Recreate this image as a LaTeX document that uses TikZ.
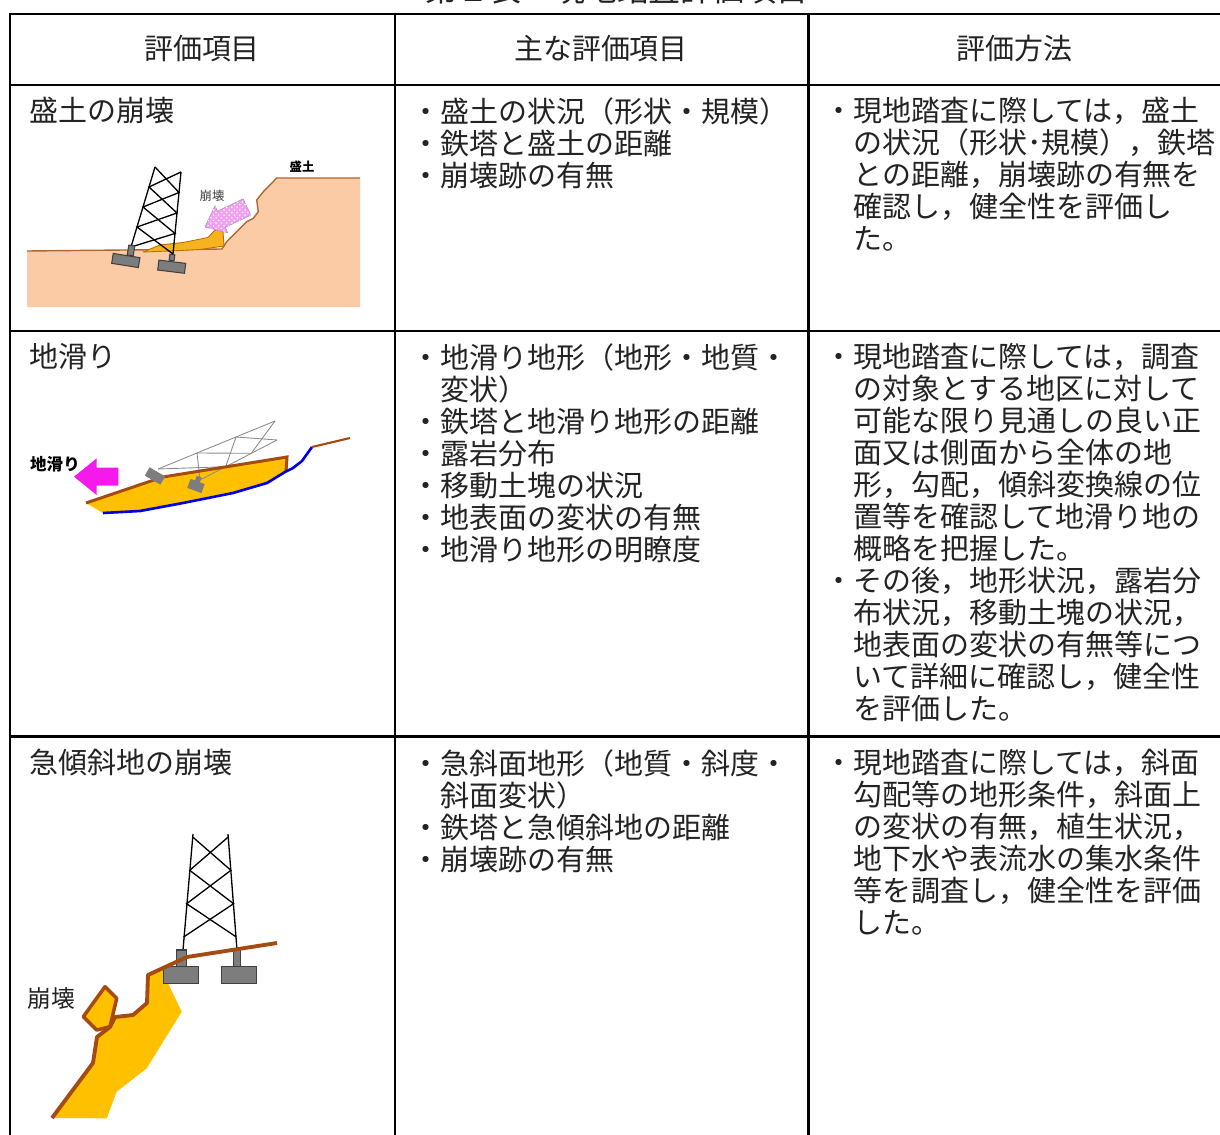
\documentclass[tikz,border=0pt]{standalone}
\usepackage{fontspec}
\setmainfont{Noto Sans CJK JP}
\usepackage{xcolor}
\usepackage{tikz}
\usetikzlibrary{patterns}

\definecolor{groundtan}{RGB}{250,203,165}
\definecolor{soilbrown}{RGB}{165,75,15}
\definecolor{massyellow}{RGB}{255,192,0}
\definecolor{debrisorange}{RGB}{245,180,30}
\definecolor{slipblue}{RGB}{0,0,230}
\definecolor{slipmagenta}{RGB}{245,25,235}
\definecolor{fallpink}{RGB}{240,160,240}
\definecolor{footgray}{RGB}{125,125,125}
\definecolor{inkgray}{RGB}{35,35,35}

\tikzset{
  tableline/.style={line width=1.7pt, black, line cap=rect},
  celltext/.style={anchor=north west, inner sep=0pt, align=left, text=inkgray,
    font=\fontsize{16.5pt}{18.2pt}\selectfont},
  headtext/.style={inner sep=0pt, text=inkgray, font=\fontsize{16.5pt}{18.2pt}\selectfont},
  titletext/.style={inner sep=0pt, text=inkgray, font=\fontsize{18.2pt}{20pt}\selectfont},
  towerline/.style={line width=0.75pt, black},
  fallentower/.style={line width=0.5pt, black!45},
  footing/.style={draw=black!75, fill=footgray, line width=0.6pt, inner sep=0pt},
  smalllabel/.style={inner sep=0pt, text=black!75, font=\fontsize{7pt}{8pt}\selectfont},
}

\begin{document}
\begin{tikzpicture}[x=0.02cm, y=-0.02cm]
  \useasboundingbox (0,0) rectangle (1220,1135);

  % title, cut by the top edge
  \node[titletext, anchor=south] (title) at (617,5) {第２表　現地踏査評価項目};

  % table rules
  \draw[tableline] (10,14) -- (1225,14);
  \draw[tableline] (10,85) -- (1225,85);
  \draw[tableline] (10,331) -- (1225,331);
  \draw[tableline] (10,736) -- (1225,736);
  \draw[tableline] (10,14) -- (10,1140);
  \draw[tableline] (395,14) -- (395,1140);
  \draw[tableline] (808,14) -- (808,1140);

  % header
  \node[headtext] (head1) at (202,49) {評価項目};
  \node[headtext] (head2) at (601,49) {主な評価項目};
  \node[headtext] (head3) at (1014,49) {評価方法};

  % row 1
  \node[celltext] (fill) at (29,97) {盛土の崩壊};
  \node[celltext] (fillitems) at (411,97) {・盛土の状況（形状・規模）\\・鉄塔と盛土の距離\\・崩壊跡の有無};
  \node[celltext] (fillmethod) at (824,97) {・現地踏査に際しては，盛土\\　の状況（形状･規模），鉄塔\\　との距離，崩壊跡の有無を\\　確認し，健全性を評価し\\　た。};

  % row 2
  \node[celltext] (slide) at (29,343) {地滑り};
  \node[celltext] (slideitems) at (411,343) {・地滑り地形（地形・地質・\\　変状）\\・鉄塔と地滑り地形の距離\\・露岩分布\\・移動土塊の状況\\・地表面の変状の有無\\・地滑り地形の明瞭度};
  \node[celltext] (slidemethod) at (824,343) {・現地踏査に際しては，調査\\　の対象とする地区に対して\\　可能な限り見通しの良い正\\　面又は側面から全体の地\\　形，勾配，傾斜変換線の位\\　置等を確認して地滑り地の\\　概略を把握した。\\・その後，地形状況，露岩分\\　布状況，移動土塊の状況，\\　地表面の変状の有無等につ\\　いて詳細に確認し，健全性\\　を評価した。};

  % row 3
  \node[celltext] (steep) at (29,749) {急傾斜地の崩壊};
  \node[celltext] (steepitems) at (411,749) {・急斜面地形（地質・斜度・\\　斜面変状）\\・鉄塔と急傾斜地の距離\\・崩壊跡の有無};
  \node[celltext] (steepmethod) at (824,749) {・現地踏査に際しては，斜面\\　勾配等の地形条件，斜面上\\　の変状の有無，植生状況，\\　地下水や表流水の集水条件\\　等を調査し，健全性を評価\\　した。};

  % sketch 1: embankment
  \fill[groundtan] (27,251) -- (222,249) -- (226.7,241.7) -- (233.3,235) -- (246.7,221.7) -- (253.3,218.3)
    -- (258.3,211.7) -- (256.7,200) -- (263.3,191.7) -- (276.7,178) -- (360,178) -- (360,307) -- (27,307) -- cycle;
  \draw[soilbrown!85, line width=0.8pt] (27,251) -- (222,249) -- (226.7,241.7) -- (233.3,235) -- (246.7,221.7)
    -- (253.3,218.3) -- (258.3,211.7) -- (256.7,200) -- (263.3,191.7) -- (276.7,178) -- (360,178);
  \draw[fill=debrisorange, draw=orange!80!black, line width=0.5pt, line join=round] (143,252) -- (160,245)
    -- (183,242.5) -- (208,237.5) -- (214,231) -- (219,228.5) -- (223,231) -- (224,246) -- (200,249.5)
    -- (170,251) -- cycle;
  \coordinate (ea0) at (155,167); \coordinate (ea1) at (149,187); \coordinate (ea2) at (143,207);
  \coordinate (ea3) at (137,227); \coordinate (ea4) at (131,247);
  \coordinate (eb0) at (181,172); \coordinate (eb1) at (179,192.5); \coordinate (eb2) at (177,213);
  \coordinate (eb3) at (175,233.5); \coordinate (eb4) at (173,254);
  \draw[towerline] (ea0) -- (ea4);
  \draw[towerline] (eb0) -- (eb4);
  \draw[towerline] (ea0) -- (eb1) -- (ea2) -- (eb3) -- (ea4);
  \draw[towerline] (eb0) -- (ea1) -- (eb2) -- (ea3) -- (eb4);
  \node[footing, minimum width=0.12cm, minimum height=0.2cm, rotate=-9] (epost1) at (131,250.5) {};
  \node[footing, minimum width=0.54cm, minimum height=0.2cm, rotate=-9] (efoot1) at (125.8,260.5) {};
  \node[footing, minimum width=0.1cm, minimum height=0.12cm, rotate=-7] (epost2) at (172,257.5) {};
  \node[footing, minimum width=0.54cm, minimum height=0.2cm, rotate=-7] (efoot2) at (171.7,266.7) {};
  \draw[fill=fallpink, draw=fallpink!80!black, line width=0.3pt,
    postaction={pattern=crosshatch dots, pattern color=white}]
    (243.1,198.9) -- (217.4,211.2) -- (214.9,205.8) -- (205,227) -- (227.8,232.8) -- (225.2,227.4)
    -- (250.9,215.1) -- cycle;
  \node[smalllabel] (efall) at (212,196) {崩壊};
  \node[smalllabel, text=black, font=\bfseries\fontsize{7pt}{8pt}\selectfont] (efill) at (302,167) {盛土};

  % sketch 2: landslide
  \fill[massyellow] (86,503) -- (148,482) -- (163,477) -- (287,457) -- (285,472) -- (267,483) -- (233,493)
    -- (183,503) -- (140,511) -- (103,513) -- cycle;
  \coordinate (la0) at (158,469); \coordinate (la1) at (197,453); \coordinate (la2) at (236,437); \coordinate (la3) at (275,421);
  \coordinate (lb0) at (200,480); \coordinate (lb1) at (225.7,466.7); \coordinate (lb2) at (251.3,453.3); \coordinate (lb3) at (277,440);
  \draw[fallentower] (la0) -- (la3);
  \draw[fallentower] (lb0) -- (lb3);
  \draw[fallentower] (la0) -- (lb1) -- (la2) -- (lb3);
  \draw[fallentower] (lb0) -- (la1) -- (lb2) -- (la3);
  \draw[soilbrown, line width=1.7pt] (86,503) -- (148,482) -- (163,477) -- (287,457) -- (286,472);
  \draw[slipblue, line width=1.5pt] (103,513) -- (140,511) -- (183,503) -- (233,493) -- (267,483) -- (285,472)
    -- (293,468) -- (302,461) -- (312,447);
  \draw[soilbrown, line width=1.2pt] (312,447) -- (350,438);
  \node[footing, draw=footgray, minimum width=0.34cm, minimum height=0.17cm, rotate=-30] (lfoot1) at (155,476) {};
  \node[footing, draw=footgray, minimum width=0.08cm, minimum height=0.12cm, rotate=-20] (lpost2) at (198,480) {};
  \node[footing, draw=footgray, minimum width=0.28cm, minimum height=0.17cm, rotate=-20] (lfoot2) at (196,486) {};
  \fill[slipmagenta] (74,476.7) -- (96.7,458.3) -- (96.7,467.7) -- (118.3,467.7) -- (118.3,485.7) -- (96.7,485.7)
    -- (96.7,495) -- cycle;
  \node[inner sep=0pt, font=\bfseries\fontsize{9.4pt}{10pt}\selectfont] (lslide) at (55,464.5) {地滑り};

  % sketch 3: steep slope
  \fill[massyellow] (52,1118) -- (93,1063) -- (97,1037) -- (110,1027) -- (115,1017) -- (133,1015) -- (147,1003)
    -- (148,975) -- (163,968) -- (163.3,973.3) -- (181.7,1011.7) -- (146.7,1068.3) -- (116.7,1091.7)
    -- (106.7,1118.3) -- cycle;
  \draw[fill=massyellow, draw=soilbrown, line width=2pt, line join=round]
    (83.3,1016.7) -- (105,986.7) -- (116.7,998.3) -- (110,1026.7) -- (96.7,1030) -- cycle;
  \coordinate (sa0) at (192.7,837); \coordinate (sa1) at (189.7,870.3); \coordinate (sa2) at (186.6,903.7); \coordinate (sa3) at (183.6,937);
  \coordinate (sb0) at (228.2,837); \coordinate (sb1) at (230.9,870.3); \coordinate (sb2) at (233.6,903.7); \coordinate (sb3) at (236.3,937);
  \draw[towerline] (193,834) -- (183,950);
  \draw[towerline] (228,834) -- (237,950);
  \draw[towerline] (sa0) -- (sb1) -- (sa2) -- (sb3);
  \draw[towerline] (sb0) -- (sa1) -- (sb2) -- (sa3);
  \node[footing, minimum width=0.2cm, minimum height=0.333cm] (spost1) at (181.7,958.3) {};
  \node[footing, minimum width=0.7cm, minimum height=0.333cm] (sfoot1) at (180.8,975) {};
  \node[footing, minimum width=0.146cm, minimum height=0.333cm] (spost2) at (237,958.3) {};
  \node[footing, minimum width=0.69cm, minimum height=0.333cm] (sfoot2) at (238.8,975) {};
  \draw[soilbrown, line width=2.2pt, line join=round] (52,1118) -- (93,1063) -- (97,1037) -- (110,1027) -- (115,1017)
    -- (133,1015) -- (147,1003) -- (148,975) -- (163,968) -- (187,957) -- (277,943);
  \node[inner sep=0pt, text=inkgray, font=\fontsize{13.5pt}{14pt}\selectfont] (sfall) at (51,999) {崩壊};
\end{tikzpicture}
\end{document}
